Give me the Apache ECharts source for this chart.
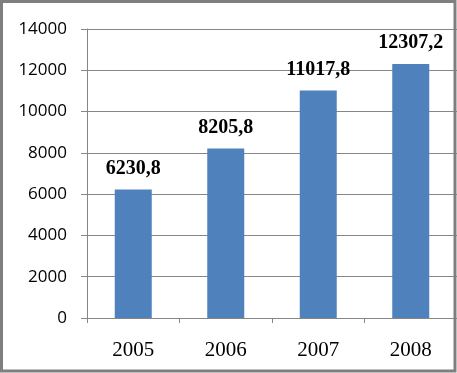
<!DOCTYPE html>
<html><head><meta charset="utf-8">
<script src="https://cdn.jsdelivr.net/npm/echarts@6/dist/echarts.min.js"></script>
<style>html,body{margin:0;padding:0;background:#fff}#c{width:457px;height:373px}</style>
</head><body><div id="c"></div>
<script>
var categories = ['2005', '2006', '2007', '2008'];
var values = [6230.8, 8205.8, 11017.8, 12307.2];
var labels = ['6230,8', '8205,8', '11017,8', '12307,2'];
var yTicks = {min: 0, max: 14000, interval: 2000};

var chart = echarts.init(document.getElementById('c'), null, {renderer: 'canvas'});
chart.setOption({
  animation: false,
  grid: {left: 87, right: 0, top: 29, bottom: 55, containLabel: false},
  xAxis: {
    type: 'category', data: categories,
    axisLine: {lineStyle: {color: '#868686', width: 1}},
    axisTick: {show: true, length: 5, alignWithLabel: false, lineStyle: {color: '#868686'}},
    axisLabel: {fontFamily: 'Liberation Serif', fontSize: 21, color: '#000', margin: 22}
  },
  yAxis: {
    type: 'value', min: yTicks.min, max: yTicks.max, interval: yTicks.interval,
    axisLine: {show: true, lineStyle: {color: '#868686', width: 1}},
    axisTick: {show: true, length: 6, lineStyle: {color: '#868686'}},
    splitLine: {lineStyle: {color: '#868686', width: 1}},
    axisLabel: {fontFamily: 'Open Sans', fontSize: 17, color: '#000', margin: 20,
      formatter: function (v) { return String(v); }}
  },
  series: [{
    type: 'bar', data: values, barWidth: '40%',
    itemStyle: {color: '#4F81BD'},
    label: {
      show: true, position: 'top', distance: 11,
      formatter: function (p) { return labels[p.dataIndex]; },
      fontFamily: 'Liberation Serif', fontWeight: 'bold', fontSize: 20, color: '#000'
    }
  }],
  graphic: [{
    type: 'rect', silent: true, z: 100,
    shape: {x: 1.5, y: 1.5, width: 453.5, height: 369.5},
    style: {fill: 'none', stroke: '#7f7f7f', lineWidth: 3}
  }]
});
</script></body></html>
